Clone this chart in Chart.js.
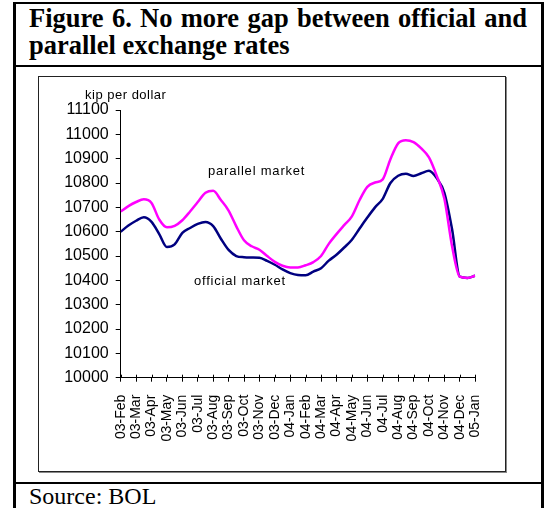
<!DOCTYPE html>
<html lang="en">
<head>
  <meta charset="UTF-8" />
  <title>Figure 6 - Official and parallel exchange rates</title>
  <script src="https://cdn.jsdelivr.net/npm/chart.js"></script>
  <style>
    body { margin: 0; background: #fff; }
    .page { position: relative; width: 548px; height: 508px; overflow: hidden; }
    .outer {
      position: absolute; left: 13px; top: 2px; width: 525px; height: 520px;
      border-left: 3px solid #000; border-right: 3px solid #000; border-top: 2px solid #000;
    }
    .rule { position: absolute; left: 13px; width: 530px; height: 2px; background: #000; }
    .title {
      position: absolute; left: 29px; font-family: "Liberation Serif", "Times New Roman", serif;
      font-weight: bold; font-size: 26.5px; line-height: 26px; white-space: nowrap;
    }
    .line1 { top: 5px; width: 498px; text-align: justify; text-align-last: justify; }
    .line2 { top: 32px; }
    .source {
      position: absolute; left: 29px; top: 483px; font-family: "Liberation Serif", "Times New Roman", serif;
      font-size: 24px; line-height: 26px;
    }
    .frame {
      position: absolute; left: 38px; top: 76px; width: 466px; height: 394px;
      border: 1px solid #222; box-shadow: 1px 1px 0 #888;
    }
    .chart-box { position: absolute; left: 39px; top: 77px; width: 466px; height: 394px; }
    .note {
      position: absolute; font-family: "Liberation Sans", Arial, sans-serif; font-size: 13px;
      color: #000; white-space: nowrap; line-height: 14px; letter-spacing: 0.8px;
    }
  </style>
</head>
<body>
  <div class="page">
    <div class="outer"></div>
    <div class="rule" style="top: 65px;"></div>
    <div class="rule" style="top: 482px;"></div>
    <div class="title line1">Figure 6. No more gap between official and</div>
    <div class="title line2">parallel exchange rates</div>
    <div class="frame"></div>
    <div class="chart-box"><canvas id="rateChart" width="466" height="394"></canvas></div>
    <div class="note" style="left: 85px; top: 88px; letter-spacing: 0.5px;">kip per dollar</div>
    <div class="note" style="left: 208px; top: 164px;">parallel market</div>
    <div class="note" style="left: 194px; top: 274px;">official market</div>
    <div class="source">Source: BOL</div>
  </div>

  <script>
    // month labels on the x axis, one per tick
    const months = ['03-Feb', '03-Mar', '03-Apr', '03-May', '03-Jun', '03-Jul', '03-Aug', '03-Sep',
      '03-Oct', '03-Nov', '03-Dec', '04-Jan', '04-Feb', '04-Mar', '04-Apr', '04-May', '04-Jun',
      '04-Jul', '04-Aug', '04-Sep', '04-Oct', '04-Nov', '04-Dec', '05-Jan'];

    // readings twice a month (kip per dollar), starting 03-Feb
    const step = 0.5;
    const parallelMarket = [10683, 10705, 10722, 10733, 10718, 10650, 10618, 10624, 10647, 10683,
      10722, 10760, 10768, 10730, 10687, 10622, 10565, 10540, 10526, 10500, 10476, 10460, 10453,
      10453, 10462, 10475, 10500, 10550, 10590, 10627, 10663, 10730, 10784, 10802, 10815, 10898,
      10963, 10976, 10968, 10942, 10905, 10830, 10735, 10540, 10415, 10410, 10419];
    const officialMarket = [10600, 10625, 10645, 10659, 10640, 10590, 10537, 10548, 10595, 10615,
      10632, 10640, 10623, 10571, 10525, 10500, 10495, 10494, 10493, 10480, 10464, 10445, 10430,
      10422, 10421, 10436, 10450, 10481, 10505, 10535, 10567, 10613, 10658, 10700, 10735, 10800,
      10830, 10838, 10829, 10840, 10850, 10820, 10760, 10610, 10415, 10410, 10419];

    const yMin = 10000, yMax = 11100, yStep = 100;

    const toPoints = arr => arr.map((v, i) => ({ x: i * step, y: v }));

    // Excel style ticks cross the category axis, draw the upper half here
    const crossTicks = {
      id: 'crossTicks',
      afterDraw(chart) {
        const xs = chart.scales.x;
        const ctx = chart.ctx;
        const y0 = chart.chartArea.bottom;
        ctx.save();
        ctx.strokeStyle = '#000';
        ctx.lineWidth = 1;
        xs.ticks.forEach((t, i) => {
          const px = Math.round(xs.getPixelForTick(i)) + 0.5;
          ctx.beginPath();
          ctx.moveTo(px, y0 - 3);
          ctx.lineTo(px, y0);
          ctx.stroke();
        });
        ctx.restore();
      }
    };

    Chart.defaults.font.family = '"Liberation Sans", Arial, sans-serif';
    Chart.defaults.color = '#000';

    new Chart(document.getElementById('rateChart').getContext('2d'), {
      type: 'line',
      data: {
        datasets: [
          {
            label: 'parallel market',
            data: toPoints(parallelMarket),
            borderColor: '#ff00ff',
            borderWidth: 2.5,
            pointRadius: 0,
            cubicInterpolationMode: 'monotone'
          },
          {
            label: 'official market',
            data: toPoints(officialMarket),
            borderColor: '#000080',
            borderWidth: 2.5,
            pointRadius: 0,
            cubicInterpolationMode: 'monotone'
          }
        ]
      },
      options: {
        responsive: false,
        animation: false,
        layout: { padding: { top: 33, right: 29.4, left: 0, bottom: 0 } },
        plugins: {
          legend: { display: false },
          tooltip: { enabled: false }
        },
        scales: {
          x: {
            type: 'linear',
            min: 0,
            max: months.length - 1,
            afterFit: s => { s.height = 93.3; },
            grid: { drawOnChartArea: false, tickLength: 4, color: '#000' },
            border: { color: '#000', width: 1 },
            ticks: {
              stepSize: 1,
              autoSkip: false,
              maxRotation: 90,
              minRotation: 90,
              padding: 13,
              font: { size: 14 },
              callback: v => months[v] || ''
            }
          },
          y: {
            min: yMin,
            max: yMax,
            afterFit: s => { s.width = 81.7; },
            grid: { drawOnChartArea: false, tickLength: 5, color: '#000' },
            border: { color: '#000', width: 1 },
            ticks: {
              stepSize: yStep,
              padding: 7,
              font: { size: 16 },
              callback: v => String(v)
            }
          }
        }
      },
      plugins: [crossTicks]
    });
  </script>
</body>
</html>
